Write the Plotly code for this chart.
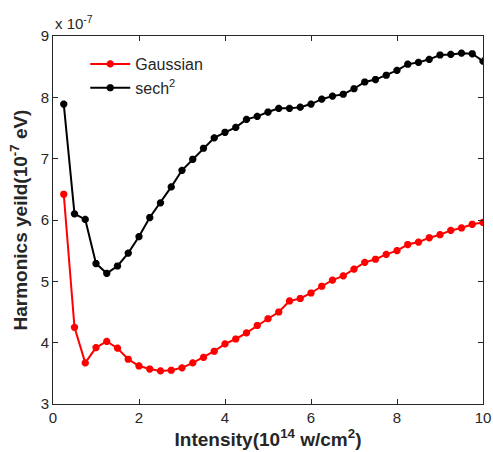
import plotly.graph_objects as go

intensity = [0.25*i for i in range(1, 41)]
gaussian = [6.42, 4.25, 3.67, 3.92, 4.02, 3.91, 3.73, 3.62, 3.57, 3.54,
            3.55, 3.59, 3.67, 3.76, 3.86, 3.98, 4.06, 4.16, 4.28, 4.39,
            4.50, 4.68, 4.72, 4.81, 4.92, 5.02, 5.09, 5.20, 5.31, 5.36,
            5.44, 5.50, 5.60, 5.64, 5.71, 5.76, 5.83, 5.87, 5.93, 5.96]
sech2 = [7.89, 6.10, 6.01, 5.29, 5.13, 5.25, 5.46, 5.73, 6.04, 6.28,
         6.54, 6.81, 6.99, 7.17, 7.34, 7.43, 7.51, 7.64, 7.69, 7.76,
         7.82, 7.82, 7.84, 7.89, 7.97, 8.02, 8.05, 8.14, 8.25, 8.29,
         8.36, 8.44, 8.54, 8.57, 8.62, 8.69, 8.70, 8.72, 8.71, 8.59]
x_ticks = [0, 2, 4, 6, 8, 10]
y_ticks = [3, 4, 5, 6, 7, 8, 9]

font = "Liberation Sans, Arial, sans-serif"
fig = go.Figure()
fig.add_trace(go.Scatter(x=intensity, y=gaussian, mode="lines+markers", name="Gaussian",
                         line=dict(color="red", width=2),
                         marker=dict(symbol="asterisk-open", size=6, color="red",
                                     line=dict(color="red", width=2.5))))
fig.add_trace(go.Scatter(x=intensity, y=sech2, mode="lines+markers", name="sech<sup>2</sup>",
                         line=dict(color="black", width=2),
                         marker=dict(symbol="asterisk-open", size=6, color="black",
                                     line=dict(color="black", width=2.5))))

axis_common = dict(showgrid=False, zeroline=False, showline=True, linecolor="#262626",
                   linewidth=1, mirror="ticks", ticks="inside", ticklen=5, automargin=False,
                   tickcolor="#262626", tickfont=dict(family=font, size=15, color="#262626"))
fig.update_xaxes(range=[0, 10], tickvals=x_ticks,
                 title=dict(text="<b>Intensity(10<sup>14</sup> w/cm<sup>2</sup>)</b>",
                            font=dict(family=font, size=19, color="#262626"), standoff=4),
                 **axis_common)
fig.update_yaxes(range=[3, 9], tickvals=y_ticks,
                 title=dict(text="<b>Harmonics yeild(10<sup>-7</sup> eV)</b>",
                            font=dict(family=font, size=19, color="#262626"), standoff=8),
                 **axis_common)
fig.add_annotation(x=0, y=1, xref="paper", yref="paper", xanchor="left", yanchor="bottom",
                   text="x 10<sup>-7</sup>", showarrow=False, yshift=2,
                   font=dict(family=font, size=15, color="#262626"))
fig.update_layout(width=493, height=452, margin=dict(l=53, r=10, t=36, b=48),
                  plot_bgcolor="white", paper_bgcolor="white", showlegend=True,
                  legend=dict(x=0.075, y=0.97, xanchor="left", yanchor="top",
                              bgcolor="rgba(0,0,0,0)", itemwidth=40, tracegroupgap=0,
                              font=dict(family=font, size=16, color="#262626")))
fig.write_html("out.html", config={"displayModeBar": False},
               post_script="document.body.style.margin='0';")
